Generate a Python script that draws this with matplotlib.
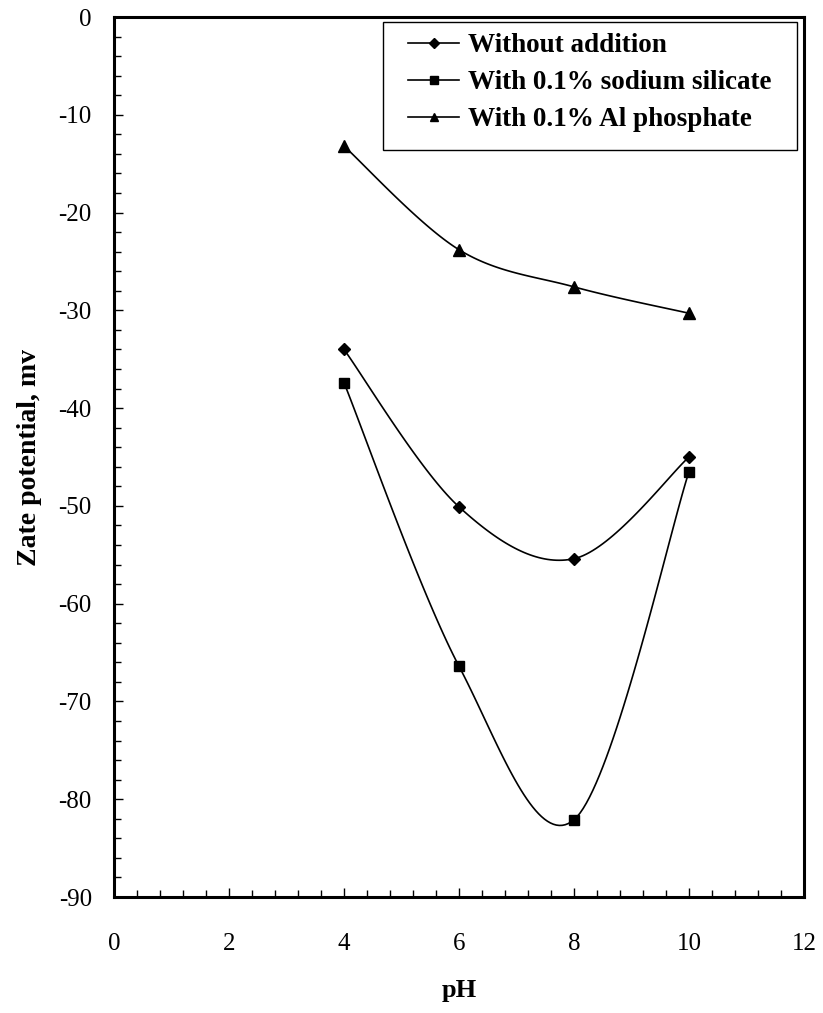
import numpy as np
import matplotlib.pyplot as plt
from matplotlib.patches import Rectangle
from matplotlib.ticker import MultipleLocator

plt.rcParams['font.family'] = ['Liberation Serif', 'DejaVu Serif']
plt.rcParams['axes.unicode_minus'] = False

PH = [4, 6, 8, 10]
WITHOUT_ADDITION = [-34.0, -50.1, -55.4, -45.0]
SODIUM_SILICATE = [-37.4, -66.4, -82.1, -46.5]
AL_PHOSPHATE = [-13.2, -23.8, -27.6, -30.3]

LABELS = ['Without addition', 'With 0.1% sodium silicate', 'With 0.1% Al phosphate']
MARKERS = ['D', 's', '^']
MARKER_SIZES = [6.5, 6.5, 8]

W, H = 823, 1013


def smooth_curve(xs, ys, steps=40):
    """Excel-like smoothed line (Catmull-Rom as cubic Bezier)."""
    pts = np.column_stack([xs, ys]).astype(float)
    padded = np.vstack([pts[0], pts, pts[-1]])
    out = []
    for i in range(len(pts) - 1):
        p0, p1, p2, p3 = padded[i], padded[i + 1], padded[i + 2], padded[i + 3]
        c1 = p1 + (p2 - p0) / 6
        c2 = p2 - (p3 - p1) / 6
        t = np.linspace(0, 1, steps)[:, None]
        seg = ((1 - t) ** 3) * p1 + 3 * ((1 - t) ** 2) * t * c1 + 3 * (1 - t) * t ** 2 * c2 + t ** 3 * p2
        out.append(seg if i == 0 else seg[1:])
    curve = np.vstack(out)
    return curve[:, 0], curve[:, 1]


def main():
    fig = plt.figure(figsize=(W / 100, H / 100), dpi=100)
    ax = fig.add_axes([114 / W, 1 - 897 / H, (804 - 114) / W, (897 - 17) / H])

    for series, label, marker, ms in zip([WITHOUT_ADDITION, SODIUM_SILICATE, AL_PHOSPHATE],
                                         LABELS, MARKERS, MARKER_SIZES):
        sx, sy = smooth_curve(PH, series)
        ax.plot(sx, sy, color='black', linewidth=1.2)
        ax.plot(PH, series, linestyle='none', marker=marker, color='black', markersize=ms)
        ax.plot([], [], color='black', linewidth=1.2, marker=marker, markersize=ms * 0.8, label=label)

    ax.set_xlim(0, 12)
    ax.set_ylim(-90, 0)
    ax.xaxis.set_major_locator(MultipleLocator(2))
    ax.xaxis.set_minor_locator(MultipleLocator(0.4))
    ax.yaxis.set_major_locator(MultipleLocator(10))
    ax.yaxis.set_minor_locator(MultipleLocator(2))
    ax.tick_params(which='both', direction='in', top=False, right=False, labelsize=18, width=1)
    ax.tick_params(which='major', length=6.5)
    ax.tick_params(which='minor', length=5)
    ax.tick_params(axis='x', which='major', pad=26)
    ax.tick_params(axis='y', which='major', pad=16)
    for spine in ax.spines.values():
        spine.set_linewidth(2.2)

    ax.set_xlabel('pH', fontsize=19, fontweight='bold', labelpad=17)
    ax.set_ylabel('Zate potential, mv', fontsize=20, fontweight='bold', labelpad=12)

    # legend frame drawn separately so the padding matches
    ax.add_patch(Rectangle((383 / W, 1 - 150 / H), (797 - 383) / W, (150 - 22) / H,
                           transform=fig.transFigure, facecolor='white', clip_on=False,
                           edgecolor='black', linewidth=1.0, zorder=4))
    leg = ax.legend(loc='upper left', bbox_to_anchor=(408 / W, 1 - 33 / H),
                    bbox_transform=fig.transFigure, borderaxespad=0, borderpad=0,
                    frameon=False, handlelength=1.9, handletextpad=0.3,
                    prop={'size': 19.5, 'weight': 'bold'}, labelspacing=0.45)
    leg.set_zorder(6)

    fig.savefig('out.png', dpi=100)


if __name__ == "__main__":
    main()
